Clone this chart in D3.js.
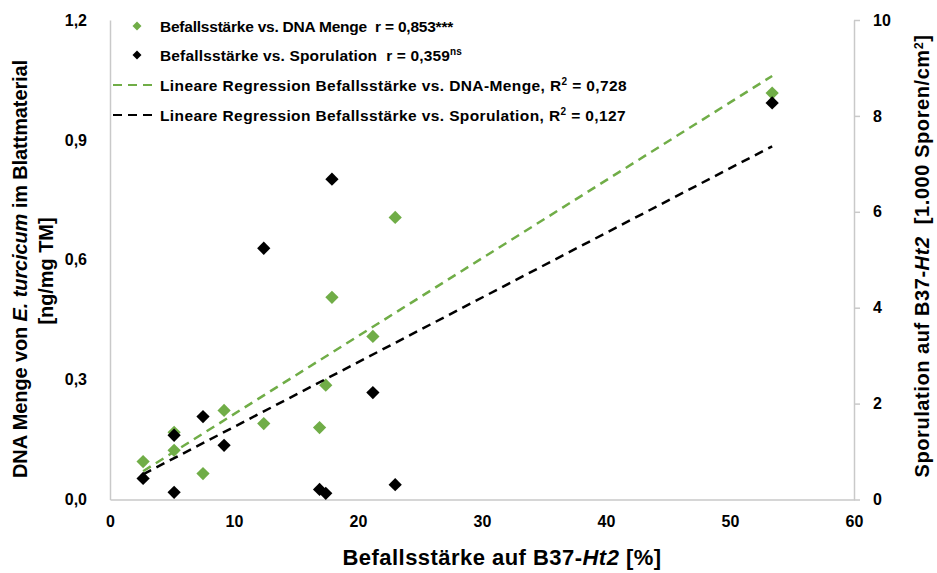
<!DOCTYPE html>
<html>
<head>
<meta charset="utf-8">
<script src="https://cdn.jsdelivr.net/npm/d3@7"></script>
<style>
  html, body { margin: 0; padding: 0; background: #fff; }
  svg text { font-family: "Liberation Sans", Arial, sans-serif; font-weight: bold; fill: #000; }
</style>
</head>
<body>
<svg id="chart" width="937" height="573"></svg>
<script>
// Befallsstärke (disease severity, %) per sample
const befall = [2.67, 5.17, 5.17, 7.5, 9.2, 12.4, 16.9, 17.4, 17.9, 21.2, 23.0, 53.4];
// DNA amount of E. turcicum [ng/mg TM] (left axis)
const dnaMenge = [0.095, 0.123, 0.168, 0.065, 0.223, 0.19, 0.18, 0.286, 0.506, 0.408, 0.706, 1.017];
// Sporulation [1.000 Sporen/cm²] (right axis)
const sporulation = [0.44, 1.34, 0.15, 1.73, 1.13, 5.24, 0.21, 0.13, 6.68, 2.23, 0.31, 8.27];

const xTicks = [0, 10, 20, 30, 40, 50, 60];
const yLeftTicks = [0, 0.3, 0.6, 0.9, 1.2];
const yRightTicks = [0, 2, 4, 6, 8, 10];

const green = "#70ad47";
const axisGrey = "#c9c9c9";

const svg = d3.select("#chart");
const plot = { left: 110, right: 854, top: 20, bottom: 499.5 };

const x = d3.scaleLinear().domain([0, 60]).range([plot.left, plot.right]);
const yL = d3.scaleLinear().domain([0, 1.2]).range([plot.bottom, plot.top]);
const yR = d3.scaleLinear().domain([0, 10]).range([plot.bottom, plot.top]);

const de = d3.formatLocale({ decimal: ",", thousands: ".", grouping: [3], currency: ["", " €"] });

// spread a text's letters so that it fills the given width
function fitWidth(sel, width) {
  const node = sel.node();
  const len = node.getComputedTextLength();
  const n = node.textContent.length;
  sel.attr("letter-spacing", ((width - len) / n).toFixed(3));
}

function styleAxis(g) {
  g.select(".domain").attr("stroke", axisGrey).attr("stroke-width", 1.5);
  g.selectAll(".tick line").attr("stroke", axisGrey).attr("stroke-width", 1.5);
  g.selectAll(".tick text").attr("font-size", 16).attr("font-family", null);
}

svg.append("g")
  .attr("transform", `translate(0,${plot.bottom})`)
  .call(d3.axisBottom(x).tickValues(xTicks).tickFormat(d3.format("d")).tickSize(0).tickPadding(16))
  .call(styleAxis);

svg.append("g")
  .attr("transform", `translate(${plot.left},0)`)
  .call(d3.axisLeft(yL).tickValues(yLeftTicks).tickFormat(de.format(".1f")).tickSize(0).tickPadding(23))
  .call(styleAxis);

svg.append("g")
  .attr("transform", `translate(${plot.right},0)`)
  .call(d3.axisRight(yR).tickValues(yRightTicks).tickFormat(d3.format("d")).tickSizeInner(6).tickSizeOuter(0).tickPadding(13))
  .call(styleAxis);

// least-squares fit
function linreg(xs, ys) {
  const mx = d3.mean(xs), my = d3.mean(ys);
  let sxy = 0, sxx = 0;
  xs.forEach((v, i) => { sxy += (v - mx) * (ys[i] - my); sxx += (v - mx) * (v - mx); });
  const b = sxy / sxx;
  return { a: my - b * mx, b };
}

const diamond = d3.symbol().type(d3.symbolSquare).size(88);

function drawPoints(ys, yScale, color) {
  svg.append("g").selectAll("path")
    .data(befall.map((v, i) => [v, ys[i]]))
    .join("path")
    .attr("d", diamond)
    .attr("fill", color)
    .attr("transform", d => `translate(${x(d[0])},${yScale(d[1])}) rotate(45)`);
}

drawPoints(dnaMenge, yL, green);
drawPoints(sporulation, yR, "#000");

function drawTrend(ys, yScale, color) {
  const fit = linreg(befall, ys);
  const [x0, x1] = d3.extent(befall);
  svg.append("line")
    .attr("x1", x(x0)).attr("y1", yScale(fit.a + fit.b * x0))
    .attr("x2", x(x1)).attr("y2", yScale(fit.a + fit.b * x1))
    .attr("stroke", color).attr("stroke-width", 2.5)
    .attr("stroke-dasharray", "9,6");
}

drawTrend(dnaMenge, yL, green);
drawTrend(sporulation, yR, "#000");

// legend
const legendSize = 15.5, supSize = 10, supShift = 5.5;
const legend = svg.append("g").attr("font-size", legendSize);
const rows = [
  { y: 26, kind: "point", color: green },
  { y: 55, kind: "point", color: "#000" },
  { y: 85, kind: "line", color: green },
  { y: 115, kind: "line", color: "#000" }
];
rows.forEach(r => {
  if (r.kind === "point") {
    legend.append("path").attr("d", d3.symbol().type(d3.symbolSquare).size(40))
      .attr("fill", r.color).attr("transform", `translate(137,${r.y}) rotate(45)`);
  } else {
    legend.append("line").attr("x1", 113).attr("x2", 154).attr("y1", r.y).attr("y2", r.y)
      .attr("stroke", r.color).attr("stroke-width", 2).attr("stroke-dasharray", "9,6");
  }
});

function legendText(y) {
  return legend.append("text").attr("x", 160).attr("y", y + 5.5).attr("xml:space", "preserve");
}
function sup(t, s) {
  t.append("tspan").attr("font-size", supSize).attr("dy", -supShift).text(s);
}
let t = legendText(26);
t.append("tspan").text("Befallsstärke vs. DNA Menge  r = 0,853***");
fitWidth(t, 293);
t = legendText(55);
t.append("tspan").text("Befallsstärke vs. Sporulation  r = 0,359");
sup(t, "ns");
fitWidth(t, 302);
t = legendText(85);
t.append("tspan").text("Lineare Regression Befallsstärke vs. DNA-Menge, R");
sup(t, "2");
t.append("tspan").attr("dy", supShift).text(" = 0,728");
fitWidth(t, 467);
t = legendText(115);
t.append("tspan").text("Lineare Regression Befallsstärke vs. Sporulation, R");
sup(t, "2");
t.append("tspan").attr("dy", supShift).text(" = 0,127");
fitWidth(t, 466);

// axis titles
const xt = svg.append("text").attr("x", 502).attr("y", 565).attr("text-anchor", "middle").attr("font-size", 22);
xt.append("tspan").text("Befallsstärke auf B37-");
xt.append("tspan").attr("font-style", "italic").text("Ht2");
xt.append("tspan").text(" [%]");
fitWidth(xt, 319);

const yt = svg.append("text").attr("transform", "translate(27,269) rotate(-90)").attr("text-anchor", "middle").attr("font-size", 20);
yt.append("tspan").text("DNA Menge von ");
yt.append("tspan").attr("font-style", "italic").text("E. turcicum");
yt.append("tspan").text(" im Blattmaterial");
fitWidth(yt, 418);
const yt2 = svg.append("text").attr("transform", "translate(53,271) rotate(-90)").attr("text-anchor", "middle").attr("font-size", 20)
  .text("[ng/mg TM]");
fitWidth(yt2, 107);

const yrt = svg.append("text").attr("transform", "translate(929,256) rotate(-90)").attr("text-anchor", "middle")
  .attr("font-size", 20).attr("xml:space", "preserve");
yrt.append("tspan").text("Sporulation auf B37-");
yrt.append("tspan").attr("font-style", "italic").text("Ht2");
yrt.append("tspan").text("  [1.000 Sporen/cm");
yrt.append("tspan").attr("font-size", 12.5).attr("dy", -6.5).text("2");
yrt.append("tspan").attr("dy", 6.5).text("]");
fitWidth(yrt, 443);
</script>
</body>
</html>
